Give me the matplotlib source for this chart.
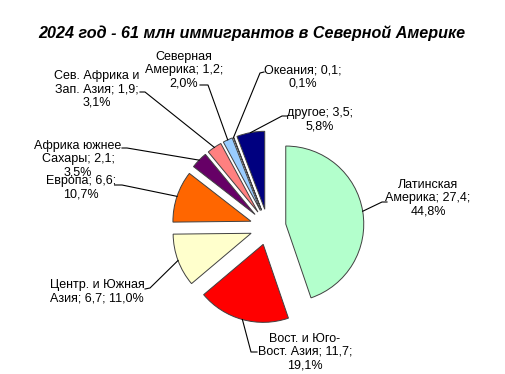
import matplotlib
matplotlib.use('Agg')
import numpy as np
import matplotlib.pyplot as plt

# data (clockwise from 12 o'clock)
regions = ['Латинская\nАмерика', 'Вост. и Юго-\nВост. Азия', 'Центр. и Южная\nАзия',
           'Европа', 'Африка южнее\nСахары', 'Сев. Африка и\nЗап. Азия',
           'Северная\nАмерика', 'Океания', 'другое']
values = [27.4, 11.7, 6.7, 6.6, 2.1, 1.9, 1.2, 0.1, 3.5]
shares = [44.8, 19.1, 11.0, 10.7, 3.5, 3.1, 2.0, 0.1, 5.8]
colors = ['#B3FFCC', '#FF0000', '#FFFFCC', '#FF6600', '#660066',
          '#FF8080', '#99CCFF', '#FFFFFF', '#000080']
title = '2024 год - 61 млн иммигрантов в Северной Америке'

W, H = 506, 374
def py(y):
  return H - y

# label layout in pixel coords: text centre, alignment, elbow, stub end
lab_pos = [(428, 198, 'center'), (305, 352, 'center'), (50, 292, 'left'),
           (81, 188, 'center'), (78, 159, 'center'), (97, 89, 'center'),
           (184, 70, 'center'), (303, 77, 'center'), (320, 120, 'center')]
elbows = [(382, 202), (251, 352), (150, 288), (122, 185), (127, 148),
          (145, 92), (208, 85), (260, 73), (282, 116)]
stubs = [(387, 202), (257, 352), (145, 289), (115, 185), (122, 148),
         (140, 92), (200, 85), (264, 72), (287, 116)]

plt.rcParams['font.family'] = ['Liberation Sans', 'DejaVu Sans']

fig = plt.figure(figsize=(W / 100, H / 100), dpi=100)
ax = fig.add_axes([0, 0, 1, 1])

r = 78
wedges, _ = ax.pie(shares, colors=colors, startangle=90, counterclock=False,
                   explode=[18] * len(shares), radius=r, center=(268, py(227)),
                   wedgeprops=dict(edgecolor='#404040', linewidth=0.7))
ax.set_xlim(0, W)
ax.set_ylim(0, H)
ax.set_aspect('equal')
ax.axis('off')

for i, w in enumerate(wedges):
  a = np.deg2rad((w.theta1 + w.theta2) / 2)
  x0 = w.center[0] + w.r * np.cos(a)
  y0 = w.center[1] + w.r * np.sin(a)
  ex, ey = elbows[i]
  sx, sy = stubs[i]
  ax.plot([x0, ex, sx], [y0, py(ey), py(sy)], color='black', lw=0.8)
  v = ('%.1f' % values[i]).replace('.', ',')
  p = ('%.1f' % shares[i]).replace('.', ',') + '%'
  sep = '; ' if i == 2 else ';\n'
  txt = regions[i] + '; ' + v + sep + p
  tx, ty, ha = lab_pos[i]
  ax.text(tx, py(ty), txt, ha=ha, va='center', multialignment=ha,
          fontsize=9, linespacing=1.15)

fig.text(252 / W, 1 - 33 / H, title, ha='center', va='center',
         fontsize=11.6, fontweight='bold', fontstyle='italic')

fig.savefig('out.png', dpi=100)
